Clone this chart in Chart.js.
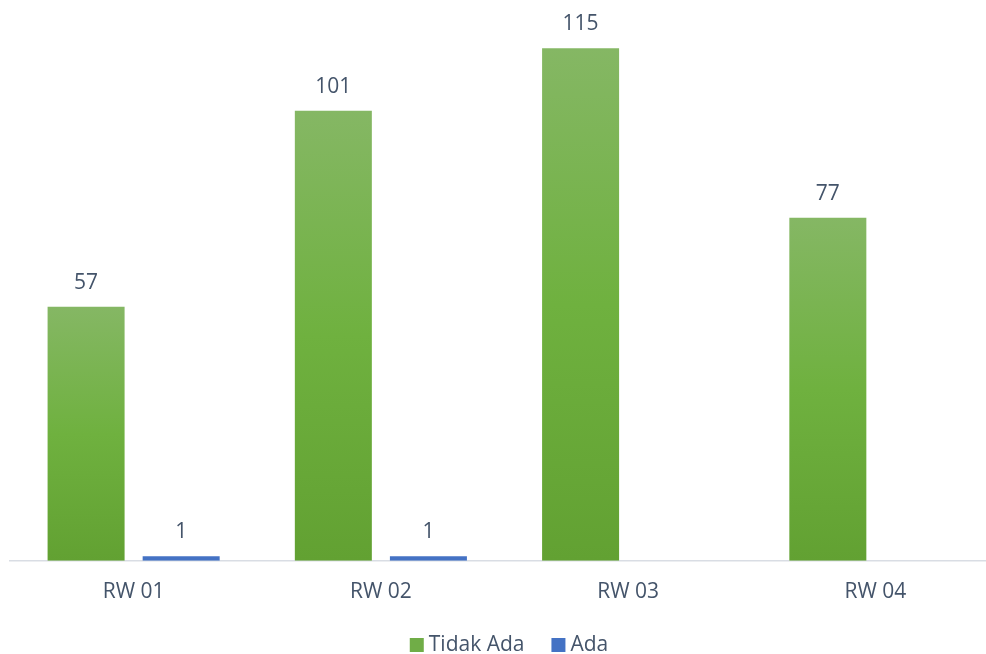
<!DOCTYPE html>
<html>
<head>
<meta charset="utf-8">
<script src="https://cdn.jsdelivr.net/npm/chart.js@4.4.1/dist/chart.umd.min.js"></script>
<style>
  body { margin: 0; background: #fff; overflow: hidden; }
  #wrap { width: 986px; height: 654px; overflow: hidden; }
</style>
</head>
<body>
<div id="wrap">
  <canvas id="rwChart" width="1010" height="654"></canvas>
</div>
<script>
// Chart data
const categories = ['RW 01', 'RW 02', 'RW 03', 'RW 04'];
const tidakAda = [57, 101, 115, 77];
const ada = [1, 1, null, null];
const seriesNames = ['Tidak Ada', 'Ada'];

const textColor = '#44546a';
const fontFamily = "'Open Sans', 'Noto Sans', sans-serif";

// green fill, lighter at the top of each bar
function greenFill(context) {
  const chart = context.chart;
  const yScale = chart.scales.y;
  if (!yScale || context.raw == null) return '#70ad47';
  const top = yScale.getPixelForValue(context.raw);
  const bottom = yScale.getPixelForValue(0);
  if (!isFinite(top) || !isFinite(bottom) || top === bottom) return '#70ad47';
  const g = chart.ctx.createLinearGradient(0, top, 0, bottom);
  g.addColorStop(0, '#85b764');
  g.addColorStop(0.5, '#6fb13f');
  g.addColorStop(1, '#62a132');
  return g;
}

// value labels above the bars
const valueLabels = {
  id: 'valueLabels',
  afterDatasetsDraw(chart) {
    const ctx = chart.ctx;
    ctx.save();
    ctx.font = '21px ' + fontFamily;
    ctx.fillStyle = textColor;
    ctx.textAlign = 'center';
    ctx.textBaseline = 'middle';
    chart.data.datasets.forEach((ds, i) => {
      chart.getDatasetMeta(i).data.forEach((bar, j) => {
        if (ds.data[j] == null) return;
        ctx.fillText(ds.data[j], bar.x, bar.y - 24);
      });
    });
    ctx.restore();
  }
};

// simple legend at the bottom
const bottomLegend = {
  id: 'bottomLegend',
  afterDraw(chart) {
    const ctx = chart.ctx;
    const box = 14, gapText = 5, gapItem = 27;
    const centerX = 509, centerY = 645;
    ctx.save();
    ctx.font = '21px ' + fontFamily;
    const colors = ['#70ad47', '#4472c4'];
    const widths = seriesNames.map(n => box + gapText + ctx.measureText(n).width);
    let x = centerX - (widths.reduce((a, b) => a + b, 0) + gapItem) / 2;
    seriesNames.forEach((name, i) => {
      ctx.fillStyle = colors[i];
      ctx.fillRect(x, centerY - box / 2, box, box);
      ctx.fillStyle = textColor;
      ctx.textAlign = 'left';
      ctx.textBaseline = 'middle';
      ctx.fillText(name, x + box + gapText, centerY);
      x += widths[i] + gapItem;
    });
    ctx.restore();
  }
};

new Chart(document.getElementById('rwChart'), {
  type: 'bar',
  data: {
    labels: categories,
    datasets: [
      {
        label: seriesNames[0],
        data: tidakAda,
        backgroundColor: greenFill,
        categoryPercentage: 0.769,
        barPercentage: 0.81
      },
      {
        label: seriesNames[1],
        data: ada,
        backgroundColor: '#4472c4',
        categoryPercentage: 0.769,
        barPercentage: 0.81
      }
    ]
  },
  options: {
    responsive: false,
    animation: false,
    layout: {
      padding: { left: 10, right: 11, top: 26, bottom: 30 }
    },
    scales: {
      y: {
        display: false,
        min: 0,
        max: 120
      },
      x: {
        grid: { display: false, drawTicks: false },
        border: { color: '#d9dde4', width: 1.5 },
        ticks: {
          color: textColor,
          padding: 19,
          font: { family: fontFamily, size: 21 }
        }
      }
    },
    plugins: {
      legend: { display: false },
      tooltip: { enabled: false }
    }
  },
  plugins: [valueLabels, bottomLegend]
});
</script>
</body>
</html>
